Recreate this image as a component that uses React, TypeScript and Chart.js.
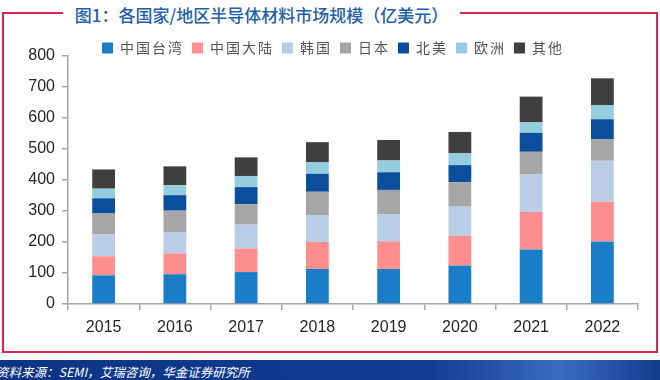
import React, { useEffect, useRef } from "react";
import { Chart, registerables } from "chart.js";

Chart.register(...registerables);

const years = ["2015", "2016", "2017", "2018", "2019", "2020", "2021", "2022"];
const seriesNames = ["中国台湾", "中国大陆", "韩国", "日本", "北美", "欧洲", "其他"];
const taiwan = [92.5, 96, 103, 113, 113, 124, 176, 202];
const mainland = [61.5, 67, 76, 87, 89, 96, 121, 128];
const korea = [70, 69, 77, 87, 88, 94, 122, 132];
const japan = [68, 69, 66, 75, 78, 79, 72, 69];
const northAmerica = [49, 50, 55, 58, 57, 55, 61, 65];
const europe = [31, 32, 36, 37, 38, 38, 35, 46];
const others = [62, 61, 60, 65, 66, 69, 82, 86];
const seriesColors = ["#1a7dc8", "#ff8f8f", "#b9cde6", "#a6a6a6", "#0b4f9c", "#94cde0", "#3f3f3f"];
const yMax = 800;
const yStep = 100;

const titleText = "图1：各国家/地区半导体材料市场规模（亿美元）";
const sourceText = "资料来源：SEMI，艾瑞咨询，华金证券研究所";

export default function App() {
  const canvasRef = useRef<HTMLCanvasElement | null>(null);

  useEffect(() => {
    const canvas = canvasRef.current;
    if (!canvas) return;
    const values = [taiwan, mainland, korea, japan, northAmerica, europe, others];
    const legendTweak = {
      id: "legendTweak",
      beforeInit(chart: any) {
        const legend = chart.legend;
        const origFit = legend.fit;
        const origDraw = legend.draw;
        legend.fit = function fit() {
          const ctx = chart.ctx;
          const prev = ctx.letterSpacing;
          ctx.letterSpacing = "2px";
          origFit.bind(legend)();
          ctx.letterSpacing = prev || "0px";
          this.height = 23;
        };
        legend.draw = function draw() {
          const ctx = chart.ctx;
          const prev = ctx.letterSpacing;
          ctx.letterSpacing = "2px";
          origDraw.bind(legend)();
          ctx.letterSpacing = prev || "0px";
        };
      },
    };
    const chart = new Chart(canvas, {
      type: "bar",
      data: {
        labels: years,
        datasets: seriesNames.map((name, i) => ({
          label: name,
          data: values[i],
          backgroundColor: seriesColors[i],
          borderWidth: 0,
          categoryPercentage: 1,
          barPercentage: 0.32,
        })),
      },
      plugins: [legendTweak],
      options: {
        responsive: false,
        animation: false,
        devicePixelRatio: 1,
        layout: { padding: { left: 28, right: 22, top: 33, bottom: 42 } },
        plugins: {
          legend: {
            display: true,
            position: "top",
            labels: {
              boxWidth: 11,
              boxHeight: 11,
              padding: 8,
              color: "#555555",
              font: { family: "'Noto Sans CJK SC'", size: 14 },
            },
          },
          tooltip: { enabled: false },
        },
        scales: {
          x: {
            stacked: true,
            offset: true,
            border: { display: true, color: "#a6a6a6", width: 1.5 },
            grid: {
              display: true,
              offset: true,
              drawOnChartArea: false,
              drawTicks: true,
              tickLength: 6,
              color: "#a6a6a6",
              lineWidth: 1.5,
            },
            ticks: {
              padding: 8,
              color: "#262626",
              font: { family: "'Liberation Sans', Arial", size: 16 },
            },
            afterFit(scale: any) {
              scale.height = 34;
            },
          },
          y: {
            stacked: true,
            min: 0,
            max: yMax,
            border: { display: true, color: "#a6a6a6", width: 1.5 },
            grid: {
              display: true,
              drawOnChartArea: false,
              drawTicks: true,
              tickLength: 6,
              color: "#a6a6a6",
              lineWidth: 1.5,
            },
            ticks: {
              stepSize: yStep,
              padding: 7,
              color: "#262626",
              font: { family: "'Liberation Sans', Arial", size: 16 },
            },
            afterFit(scale: any) {
              scale.width = 40;
            },
          },
        },
      },
    });
    return () => chart.destroy();
  }, []);

  return (
    <div style={{ position: "absolute", left: 0, top: 0, width: 660, height: 380, background: "#fff", overflow: "hidden" }}>
      <div
        style={{
          position: "absolute",
          left: 2,
          top: 12,
          width: 656,
          height: 341,
          boxSizing: "border-box",
          border: "2.5px solid #d9254f",
        }}
      />
      <div
        style={{
          position: "absolute",
          left: 63,
          top: 1,
          width: 397,
          height: 28,
          lineHeight: "28px",
          background: "#fff",
          textAlign: "center",
          fontFamily: "'Noto Sans CJK SC'",
          fontSize: 17,
          fontWeight: 500,
          color: "#2460a7",
          whiteSpace: "nowrap",
        }}
      >
        {titleText}
      </div>
      <canvas ref={canvasRef} width={660} height={380} style={{ position: "absolute", left: 0, top: 0, width: 660, height: 380 }} />
      <div
        style={{
          position: "absolute",
          left: 0,
          top: 360,
          width: 660,
          height: 20,
          background: "linear-gradient(to right, #0b3483 0%, #113c91 65%, #3a6cc0 85%, #123d8e 100%)",
        }}
      />
      <div
        style={{
          position: "absolute",
          left: -4,
          top: 363,
          height: 18,
          lineHeight: "18px",
          fontFamily: "'Noto Sans CJK SC'",
          fontSize: 12.5,
          fontStyle: "italic",
          color: "#ffffff",
          whiteSpace: "nowrap",
        }}
      >
        {sourceText}
      </div>
    </div>
  );
}
